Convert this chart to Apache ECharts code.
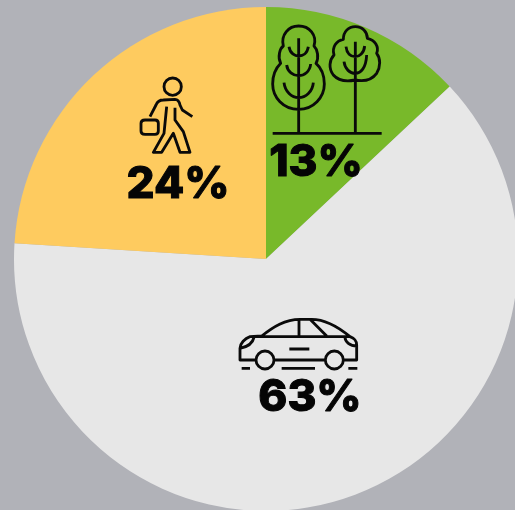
<!DOCTYPE html>
<html>
<head>
<meta charset="utf-8">
<style>html,body{margin:0;padding:0;background:#b1b2b8}#c{width:515px;height:510px}</style>
<script src="https://cdn.jsdelivr.net/npm/echarts@6/dist/echarts.min.js"></script>
</head>
<body>
<div id="c"></div>
<script>
const categories = ['Nature', 'Car', 'Walking'];
const values = [13, 63, 24];
const colors = ['#78b92a', '#e7e7e7', '#fecb5f'];
const labelCenters = [[316, 163], [310, 398], [178, 185]];

const treeIcon = 'M116,298 C70,298 38,262 38,222 C38,190 50,172 62,160 C52,140 60,115 70,108 C62,75 85,48 116,48 C148,48 172,75 162,108 C172,118 178,142 168,160 C182,172 193,195 193,222 C193,262 160,298 116,298 Z ' +
  'M116,85 L116,370 M87,110 C90,130 105,138 116,138 C128,138 142,130 145,110 M80,165 C82,185 100,197 116,197 C132,197 150,185 152,162 M72,218 C75,245 95,263 116,263 C137,263 158,245 160,218 ' +
  'M38,370 L365,370 M286,95 L286,370 ' +
  'M250,88 C250,65 265,50 286,50 C307,50 322,65 322,85 C345,90 358,110 350,130 C362,145 362,170 350,190 C335,210 310,215 286,210 C262,215 235,212 220,195 C205,175 208,150 222,135 C215,110 230,92 250,88 Z ' +
  'M258,110 C260,130 272,140 286,140 C298,140 312,130 314,108 M252,155 C255,178 270,190 286,190 C302,190 318,175 320,135';
const personIcon = 'M132,65 A26,26 0 1 1 184,65 A26,26 0 1 1 132,65 Z ' +
  'M90,155 L108,120 C112,110 120,105 130,105 L165,103 C172,103 178,110 180,120 L187,135 L217,155 ' +
  'M140,125 L132,205 L100,262 L125,262 L160,205 L180,262 L210,262 L190,200 L165,165 L165,128 ' +
  'M75,165 L105,165 Q115,165 115,175 L115,198 Q115,208 105,208 L75,208 Q63,208 63,198 L63,175 Q63,165 75,165 Z';
const carIcon = 'M78,150 L30,150 L30,115 C30,100 45,85 60,80 L95,78 C130,50 165,28 210,28 L245,28 C290,28 330,55 360,80 C372,85 380,90 380,105 L380,150 L340,150 M286,150 L132,150 ' +
  'M78,150 A27,27 0 1 1 132,150 A27,27 0 1 1 78,150 Z M286,150 A27,27 0 1 1 340,150 A27,27 0 1 1 286,150 Z ' +
  'M60,80 L360,80 M207,28 L207,78 M240,28 L290,78 M178,117 L238,117 M30,115 C55,110 68,100 72,82 M345,82 C345,95 360,108 380,108 ' +
  'M35,175 L60,175 M155,175 L255,175 M355,175 L382,175';
const icons = [[treeIcon, 260, 10], [personIcon, 120, 65], [carIcon, 230, 310]];

const chart = echarts.init(document.getElementById('c'), null, { renderer: 'canvas' });
chart.setOption({
  animation: false,
  backgroundColor: '#b1b2b8',
  series: [{
    type: 'pie',
    center: [266, 259],
    radius: [0, 252],
    startAngle: 90,
    silent: true,
    data: categories.map((name, i) => ({ name, value: values[i], itemStyle: { color: colors[i] } })),
    labelLine: { show: false },
    label: {
      show: true, position: 'inside', formatter: '{c}%',
      color: '#050505', fontFamily: 'Inter', fontWeight: 800, fontSize: 44,
      textBorderColor: '#050505', textBorderWidth: 1
    },
    labelLayout: p => ({
      x: labelCenters[p.dataIndex][0], y: labelCenters[p.dataIndex][1],
      align: 'center', verticalAlign: 'middle'
    })
  }, {
    type: 'custom',
    coordinateSystem: 'none',
    silent: true,
    z: 10,
    data: icons.map((_, i) => i),
    renderItem: (params) => {
      const ic = icons[params.dataIndex];
      return {
        type: 'path', x: ic[1], y: ic[2], scaleX: 1 / 3, scaleY: 1 / 3,
        shape: { pathData: ic[0] },
        style: { fill: 'none', stroke: '#0a0a0a', lineWidth: 8.5, lineJoin: 'round' }
      };
    }
  }]
});
</script>
</body>
</html>
